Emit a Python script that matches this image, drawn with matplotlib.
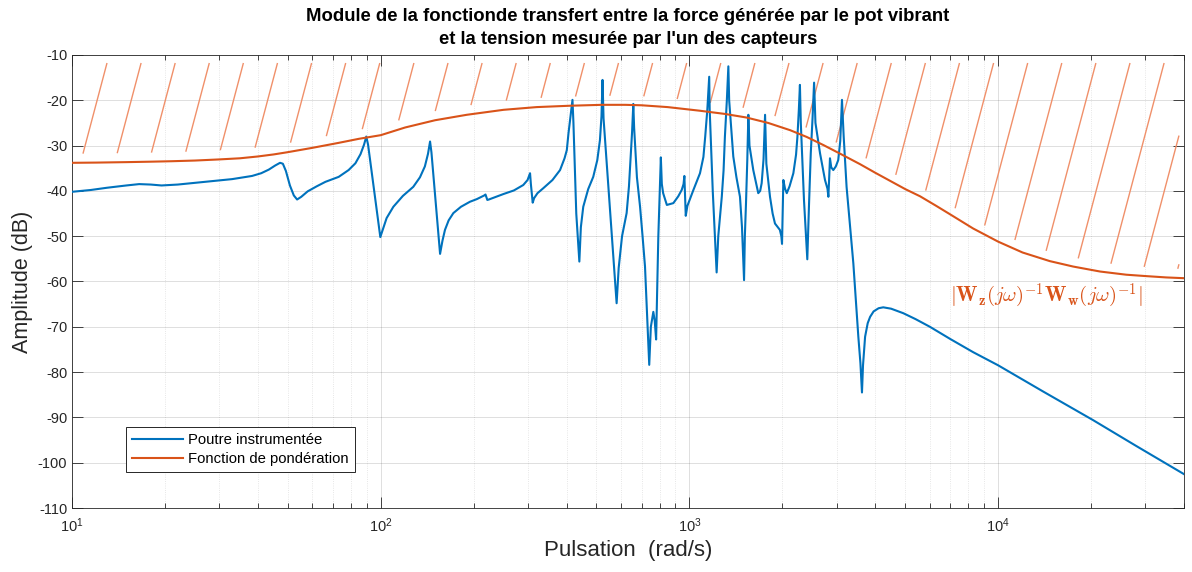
import numpy as np
import matplotlib
matplotlib.use('Agg')
import matplotlib.pyplot as plt
from matplotlib.collections import LineCollection
from matplotlib.ticker import LogLocator, NullFormatter

# ---------------- data ----------------
w_blue = [10, 11.5, 13, 15, 16.5, 18, 19.5, 22, 27, 33, 38.3, 41, 43.4, 45.5, 47.2,
          48.2, 49.3, 50.8, 52.3, 53.6, 55.3, 58, 62, 66.2, 73.1, 78.7, 82.8, 86,
          88.3, 89.8, 91, 99.7, 101.5, 104.5, 109.9, 118, 127.5, 134, 139, 142.3,
          144.5, 146, 155.7, 158.5, 161.5, 166, 171.9, 182, 194.5, 205, 216.5,
          218.5, 221.5, 224, 249.6, 270, 289.6, 299, 304.6, 306.5, 310.7, 314, 322,
          336.3, 360, 381, 394, 400.7, 405.7, 411, 418, 421, 430, 440, 445, 453,
          470, 488, 503, 513, 519, 523, 527, 545, 565, 581, 590, 605, 626, 637, 645,
          652, 658, 662, 676, 692, 705, 718, 741, 750, 764, 772, 780, 793, 808, 814,
          822, 845, 887, 920, 944, 957, 963, 967, 973, 985, 1030, 1082, 1110, 1125,
          1143, 1159, 1163, 1190, 1225, 1240, 1273, 1290, 1303, 1322, 1337, 1345,
          1387, 1420, 1458, 1480, 1503, 1512, 1525, 1540, 1552, 1565, 1610, 1671,
          1695, 1714, 1738, 1758, 1775, 1824, 1860, 1893, 1963, 1985, 1995, 2015,
          2040, 2067, 2110, 2171, 2215, 2238, 2262, 2280, 2295, 2350, 2409, 2440,
          2472, 2505, 2534, 2560, 2649, 2749, 2800, 2819, 2853, 2880, 2924, 2980,
          3034, 3080, 3120, 3160, 3229, 3396, 3525, 3580, 3622, 3650, 3707, 3780,
          3849, 3950, 4100, 4245, 4500, 4930, 5400, 6012, 7000, 8300, 10000, 14000,
          20300, 28000, 40400]
db_blue = [-40.2, -39.8, -39.3, -38.8, -38.5, -38.6, -38.8, -38.6, -38.0, -37.4, -36.7,
           -36.1, -35.3, -34.4, -33.8, -34.0, -35.6, -38.8, -41.0, -41.9, -41.3, -40.1,
           -39.0, -38.0, -36.9, -35.4, -33.9, -31.9, -29.8, -28.0, -29.8, -50.2, -48.6,
           -46.0, -43.5, -41.1, -39.1, -37.0, -34.6, -31.8, -29.1, -31.5, -53.9, -51.0,
           -48.6, -46.5, -44.9, -43.5, -42.4, -41.8, -41.0, -40.8, -42.0, -41.9, -40.7,
           -39.9, -38.7, -37.6, -36.1, -38.5, -42.6, -41.6, -40.5, -39.4, -37.6, -35.4,
           -32.8, -31.0, -27.3, -24.0, -19.9, -25.0, -45.0, -55.6, -48.0, -43.5, -39.6,
           -36.9, -33.2, -28.8, -23.5, -15.5, -24.0, -38.0, -53.0, -64.8, -57.0, -50.0,
           -44.9, -39.0, -32.5, -27.0, -20.8, -26.0, -37.0, -43.5, -50.0, -56.7, -78.4,
           -70.0, -66.7, -68.7, -72.8, -50.0, -32.6, -38.5, -40.5, -43.1, -42.7, -41.2,
           -39.8, -38.5, -36.7, -40.0, -45.5, -43.3, -39.8, -36.1, -32.5, -28.0, -22.0,
           -14.8, -22.0, -40.0, -58.0, -50.0, -41.3, -35.5, -28.0, -20.0, -12.5, -20.0,
           -32.4, -37.0, -41.3, -48.0, -59.7, -50.0, -42.7, -33.0, -23.2, -30.0, -35.4,
           -40.5, -40.0, -38.3, -33.0, -23.2, -34.0, -41.3, -45.0, -47.2, -48.6, -50.0,
           -51.7, -37.6, -39.5, -40.5, -39.0, -36.1, -32.0, -28.0, -22.0, -16.6, -25.0,
           -42.0, -55.1, -43.0, -31.7, -24.0, -16.1, -25.0, -31.7, -37.6, -39.5, -41.3,
           -32.8, -34.8, -35.4, -34.6, -33.2, -29.0, -19.9, -28.0, -39.1, -56.0, -72.2,
           -78.0, -84.5, -78.5, -72.2, -69.2, -67.8, -66.6, -65.9, -65.7, -66.0, -67.0,
           -68.3, -70.0, -72.7, -75.6, -78.5, -84.3, -90.6, -96.3, -102.7]

w_pond = [10, 12, 15, 18, 21, 25, 30, 35, 40, 45, 50, 60, 73, 85, 100, 120, 150, 190,
          250, 320, 410, 520, 620, 700, 850, 1080, 1300, 1530, 1800, 2120, 2400, 2720,
          3100, 3570, 4000, 4500, 5000, 5590, 6300, 7000, 8300, 10000, 12000, 14700,
          17500, 21400, 26000, 30000, 35000, 41000]
db_pond = [-33.8, -33.75, -33.65, -33.55, -33.45, -33.3, -33.05, -32.8, -32.4, -31.95,
           -31.45, -30.5, -29.4, -28.5, -27.7, -26.0, -24.4, -23.2, -22.1, -21.5, -21.2,
           -21.0, -21.0, -21.1, -21.5, -22.3, -23.0, -23.8, -25.0, -26.6, -28.1, -29.9,
           -31.9, -34.1, -36.0, -37.9, -39.6, -41.2, -43.3, -45.2, -48.3, -51.2, -53.6,
           -55.5, -56.7, -57.8, -58.5, -58.8, -59.1, -59.3]

labels = ['Poutre instrumentée', 'Fonction de pondération']
title = ("Module de la fonctionde transfert entre la force générée par le pot vibrant\n"
         "et la tension mesurée par l'un des capteurs")
xlim = (10, 4e4)
ylim = (-110, -10)
yticks = list(range(-110, -9, 10))

# ---------------- style ----------------
plt.rcParams['font.family'] = ['Liberation Sans', 'DejaVu Sans']
plt.rcParams['axes.unicode_minus'] = False
plt.rcParams['mathtext.fontset'] = 'custom'
plt.rcParams['mathtext.rm'] = 'Liberation Sans'
plt.rcParams['mathtext.it'] = 'Liberation Sans:italic'
plt.rcParams['mathtext.bf'] = 'Liberation Sans:bold'

BLUE = '#0072BD'
ORANGE = '#D95319'
HATCH = '#F0906A'
AXC = '#262626'

FW, FH = 1192, 572
fig = plt.figure(figsize=(FW / 100, FH / 100), dpi=100)
L, R, T, B = 72, 1184, 55, 508
ax = fig.add_axes([L / FW, 1 - B / FH, (R - L) / FW, (B - T) / FH])
W_px, H_px = R - L, B - T

ax.set_xscale('log')
ax.set_xlim(*xlim)
ax.set_ylim(*ylim)
ax.set_yticks(yticks)
ax.xaxis.set_major_locator(LogLocator(base=10, numticks=10))
ax.xaxis.set_minor_locator(LogLocator(base=10, subs=np.arange(2, 10), numticks=20))
ax.xaxis.set_minor_formatter(NullFormatter())

ax.grid(True, which='major', color=AXC, alpha=0.15, lw=0.7)
ax.grid(True, which='minor', axis='x', color=AXC, alpha=0.15, lw=0.6, linestyle=':')
ax.set_axisbelow(True)
ax.tick_params(which='both', direction='in', top=True, right=True, colors=AXC,
               labelsize=10.5, width=0.6)
ax.tick_params(which='major', length=8)
ax.tick_params(which='minor', length=3.6)
ax.tick_params(axis='x', which='major', pad=6)
for s in ax.spines.values():
    s.set_color(AXC)
    s.set_linewidth(0.6)

# ---------------- hatching above the weighting curve ----------------
lx0, lx1 = np.log10(xlim[0]), np.log10(xlim[1])
cx = (np.log10(np.array(w_pond)) - lx0) / (lx1 - lx0) * W_px
cy = (np.array(db_pond) - ylim[0]) / (ylim[1] - ylim[0]) * H_px
k = 0.265
spacing = 34.1
top_px = H_px - 8
gap = 9
segs = []
xt = 35.0
while xt < W_px + k * H_px:
    ys = np.linspace(top_px, 0, 3000)
    xs = xt - k * (top_px - ys)
    curve = np.interp(xs, cx, cy)
    ok = (ys > curve + gap) & (xs > 2) & (xs < W_px - 5)
    idx = np.where(ok)[0]
    if idx.size > 1:
        brk = np.where(np.diff(idx) > 1)[0]
        run = idx[: brk[0] + 1] if brk.size else idx
        if run.size > 1:
            i0, i1 = run[0], run[-1]
            segs.append([(xs[i0] / W_px, ys[i0] / H_px), (xs[i1] / W_px, ys[i1] / H_px)])
    xt += spacing
ax.add_collection(LineCollection(segs, colors=HATCH, linewidths=1.0,
                                 transform=ax.transAxes, zorder=1.5))

# ---------------- curves ----------------
ax.plot(w_blue, db_blue, color=BLUE, lw=1.5, label=labels[0], zorder=3)
ax.plot(w_pond, db_pond, color=ORANGE, lw=1.5, label=labels[1], zorder=3)

ax.text(6985, -63.2,
        r'$|\mathbf{W}_{\mathbf{z}}(j\omega)^{-1}\mathbf{W}_{\mathbf{w}}(j\omega)^{-1}|$',
        color=ORANGE, fontsize=15, math_fontfamily='cm', va='center', ha='left',
        zorder=4)

leg = ax.legend(loc='lower left', bbox_to_anchor=(0.0486, 0.0795), fontsize=10.7,
                frameon=True, fancybox=False, framealpha=1, edgecolor=AXC,
                handlelength=3.4, handletextpad=0.4, borderpad=0.4,
                labelspacing=0.35, borderaxespad=0)
leg.get_frame().set_linewidth(0.7)

ax.set_xlabel('Pulsation  (rad/s)', fontsize=16, color=AXC, labelpad=4)
ax.set_ylabel('Amplitude (dB)', fontsize=15.5, color=AXC, labelpad=3)
ax.set_title(title, fontsize=13.3, fontweight='bold', color='black',
             linespacing=1.42, pad=8)

fig.savefig('out.png', dpi=100)
